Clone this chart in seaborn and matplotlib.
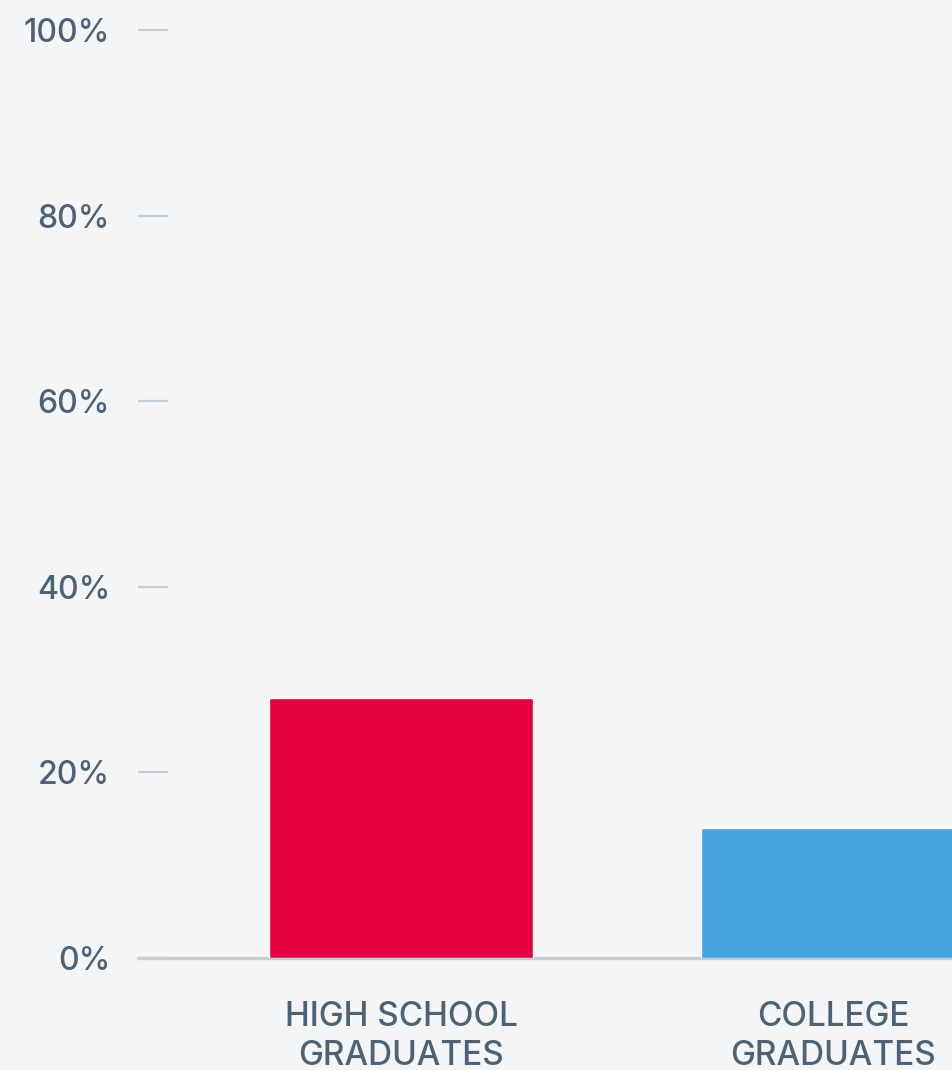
import matplotlib
matplotlib.use("Agg")
import matplotlib.pyplot as plt
import seaborn as sns
from matplotlib.ticker import FuncFormatter

# Data
categories = ["HIGH SCHOOL\nGRADUATES", "COLLEGE\nGRADUATES"]
values = [28, 14]
bar_colors = ["#e5003f", "#44a4df"]
y_ticks = [0, 20, 40, 60, 80, 100]

bg = "#f3f5f7"
text_color = "#4e6275"
grid_color = "#c3ced8"

sns.set_theme(style="white")
plt.rcParams["font.family"] = ["Inter", "DejaVu Sans"]
plt.rcParams["font.weight"] = "medium"

fig = plt.figure(figsize=(9.53, 10.70), dpi=100, facecolor=bg)
ax = fig.add_axes([138 / 953, 112 / 1070, 815 / 953, 928 / 1070])
ax.set_facecolor(bg)

sns.barplot(x=categories, y=values, hue=categories, palette=bar_colors,
            width=0.611, saturation=1, legend=False, ax=ax, zorder=3)

# baseline
ax.axhline(0, color=grid_color, lw=2.4, zorder=2, clip_on=False)

ax.set_xlim(-0.6088, 1.2778)
ax.set_ylim(0, 100)
ax.set_yticks(y_ticks)
ax.yaxis.set_major_formatter(FuncFormatter(lambda v, p: f"{v:.0f}%"))
ax.tick_params(axis="y", left=True, direction="in", length=21.6, width=1.6, color=grid_color,
               pad=20, labelsize=23, labelcolor=text_color)
ax.tick_params(axis="x", bottom=False, length=0, pad=31, labelsize=24, labelcolor=text_color)
for lbl in ax.get_xticklabels():
    lbl.set_linespacing(1.28)

for s in ax.spines.values():
    s.set_visible(False)
ax.set_xlabel("")
ax.set_ylabel("")

fig.savefig("out.png", dpi=100, facecolor=bg)
